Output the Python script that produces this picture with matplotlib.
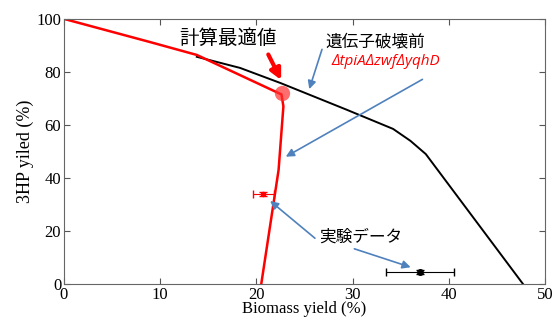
import numpy as np
import matplotlib.pyplot as plt

plt.rcParams['font.family'] = ['Noto Sans CJK JP', 'DejaVu Sans']

# 遺伝子破壊前 (black) curve
wt_x = [13.8, 18.3, 22.5, 29.4, 34.2, 36.0, 37.6, 47.7]
wt_y = [85.7, 81.5, 75.8, 65.7, 58.5, 54.0, 49.0, 0.0]

# ΔtpiAΔzwfΔyqhD (red) curve
mut_x = [0.0, 8.9, 13.8, 22.6, 22.8, 22.3, 20.5]
mut_y = [100.0, 91.3, 86.4, 71.5, 67.0, 43.0, 0.0]

# optimum
opt_x, opt_y = 22.7, 72.0

# experimental data
exp_mut = (20.7, 34.0, 1.1, 0.8)
exp_wt = (37.0, 4.5, 3.5, 0.8)

xticks = [0, 10, 20, 30, 40, 50]
yticks = [0, 20, 40, 60, 80, 100]

fig = plt.figure(figsize=(5.54, 3.2), dpi=100)
ax = fig.add_axes([0.1155, 0.1125, 0.8685, 0.8285])

ax.plot(wt_x, wt_y, color='black', lw=1.4)
ax.plot(mut_x, mut_y, color='red', lw=1.8)
ax.plot(opt_x, opt_y, 'o', color='#ff3030', alpha=0.7, ms=11, mec='none')

ax.errorbar(exp_mut[0], exp_mut[1], xerr=exp_mut[2], yerr=exp_mut[3], fmt='o',
            color='red', ms=3, capsize=3, lw=0.8)
ax.errorbar(exp_wt[0], exp_wt[1], xerr=exp_wt[2], yerr=exp_wt[3], fmt='o',
            color='black', ms=4, capsize=3, lw=0.8)

blue = '#4f81bd'
arr = dict(arrowstyle='-|>', color=blue, lw=1.2, mutation_scale=12)
ax.annotate('', xy=(25.4, 72.5), xytext=(26.9, 89.5), arrowprops=arr)
ax.annotate('', xy=(22.8, 47.5), xytext=(37.5, 77.7), arrowprops=arr)
ax.annotate('', xy=(21.2, 32.0), xytext=(26.3, 16.6), arrowprops=arr)
ax.annotate('', xy=(36.3, 6.0), xytext=(29.9, 13.6), arrowprops=arr)
ax.annotate('', xy=(22.7, 76.0), xytext=(21.1, 87.5),
            arrowprops=dict(arrowstyle='-|>', color='red', lw=3, mutation_scale=16))

ax.text(17.0, 92.8, '計算最適値', fontsize=14, ha='center', va='center')
ax.text(32.3, 91.3, '遺伝子破壊前', fontsize=12, ha='center', va='center')
ax.text(33.4, 83.8, 'ΔtpiAΔzwfΔyqhD', fontsize=11, ha='center', va='center',
        color='red', style='italic', family=['Open Sans', 'DejaVu Sans'])
ax.text(30.8, 17.7, '実験データ', fontsize=12, ha='center', va='center')

ax.set_xlim(0, 50)
ax.set_ylim(0, 100)
ax.set_xticks(xticks)
ax.set_yticks(yticks)
serif = ['Liberation Serif', 'DejaVu Serif']
for lab in ax.get_xticklabels() + ax.get_yticklabels():
    lab.set_family(serif)
    lab.set_fontsize(12)
ax.tick_params(direction='in', top=True, right=True, length=4, color='#555555',
               pad=2)
for s in ax.spines.values():
    s.set_color('#666666')
ax.set_xlabel('Biomass yield (%)', family=serif, fontsize=12, labelpad=-1)
ax.set_ylabel('3HP yiled (%)', family=serif, fontsize=13, labelpad=2)

fig.savefig('out.png', dpi=100)
